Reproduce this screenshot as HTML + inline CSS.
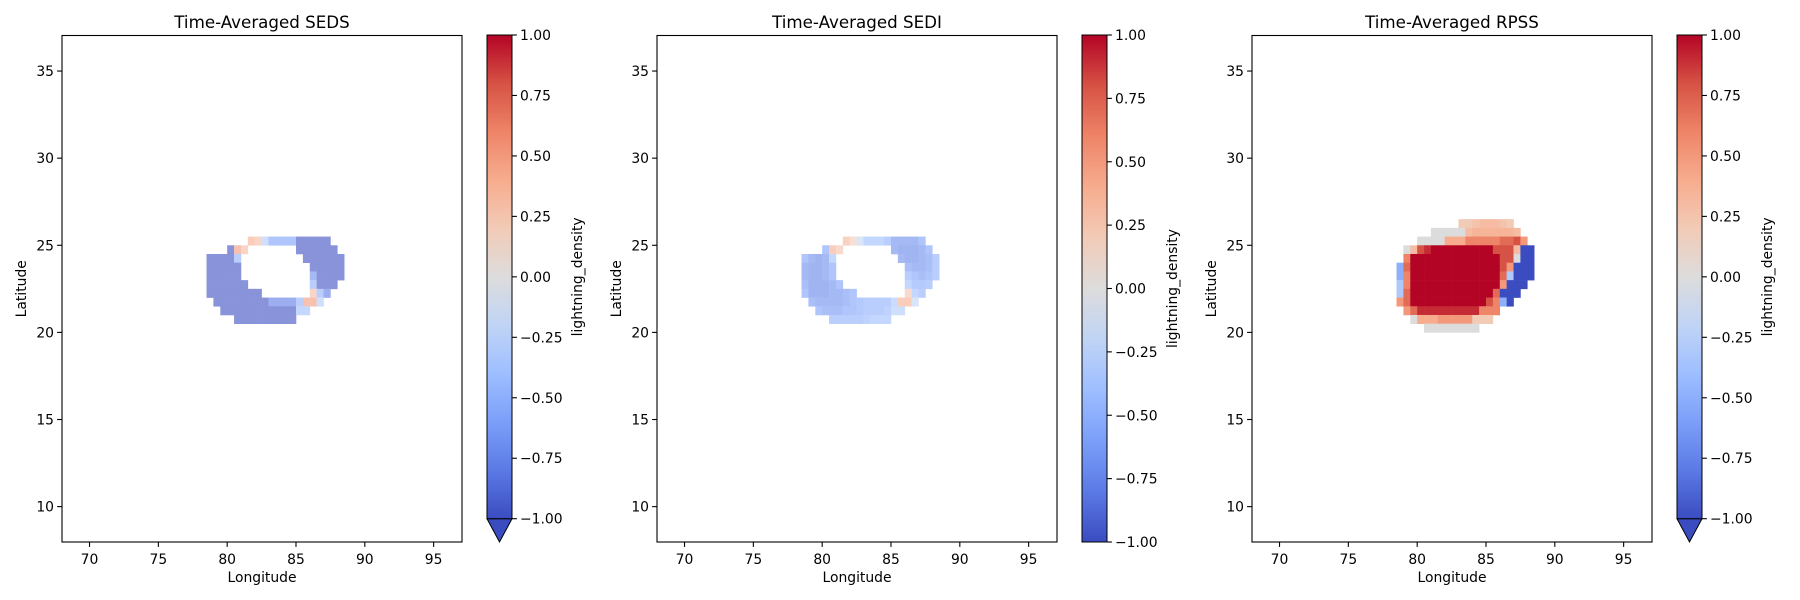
<!DOCTYPE html>
<html><head><meta charset="utf-8">
<style>
html,body{margin:0;padding:0;background:#fff;}
svg{display:block;font-family:"DejaVu Sans","Liberation Sans",sans-serif;}
</style></head>
<body>
<svg id="fig" width="1800" height="600" viewBox="0 0 1800 600" xmlns="http://www.w3.org/2000/svg">
<defs>
<linearGradient id="cw" x1="0" y1="1" x2="0" y2="0">
<stop offset="0" stop-color="#3b4cc0"/><stop offset="0.1" stop-color="#5b7ae5"/><stop offset="0.2" stop-color="#7b9ff9"/><stop offset="0.3" stop-color="#9ebeff"/><stop offset="0.4" stop-color="#c0d4f5"/><stop offset="0.5" stop-color="#dddcdc"/><stop offset="0.6" stop-color="#f2cbb7"/><stop offset="0.7" stop-color="#f7ac8e"/><stop offset="0.8" stop-color="#ee8468"/><stop offset="0.9" stop-color="#d65244"/><stop offset="1" stop-color="#b40426"/>
</linearGradient>
</defs>
</svg>
<script>
// ---- data ----
const xTicks = [70, 75, 80, 85, 90, 95];
const yTicks = [10, 15, 20, 25, 30, 35];
const cbTicks = [-1, -0.75, -0.5, -0.25, 0, 0.25, 0.5, 0.75, 1];
const cbTickLabels = ["\u22121.00", "\u22120.75", "\u22120.50", "\u22120.25", "0.00", "0.25", "0.50", "0.75", "1.00"];
const titles = ["Time-Averaged SEDS", "Time-Averaged SEDI", "Time-Averaged RPSS"];
const lonCenters = [78.75,79.25,79.75,80.25,80.75,81.25,81.75,82.25,82.75,83.25,83.75,84.25,84.75,85.25,85.75,86.25,86.75,87.25,87.75,88.25,88.75];
const latCenters = [26.25,25.75,25.25,24.75,24.25,23.75,23.25,22.75,22.25,21.75,21.25,20.75,20.25];
const N = null;
const sedsValues = [
[N,N,N,N,N,N,N,N,N,N,N,N,N,N,N,N,N,N,N,N,N],
[N,N,N,N,N,N,N,N,N,N,N,N,N,N,N,N,N,N,N,N,N],
[N,N,N,N,N,N,0.4,0.3,-0.3,-0.6,-0.6,-0.6,-0.6,-1,-1,-1,-1,-1,N,N,N],
[N,N,N,-1,0.5,0.3,N,N,N,N,N,N,N,-1,-1,-1,-1,-1,-1,N,N],
[-1,-1,-1,-1,-0.5,N,N,N,N,N,N,N,N,N,-1,-1,-1,-1,-1,-1,N],
[-1,-1,-1,-1,-1,N,N,N,N,N,N,N,N,N,N,-1,-1,-1,-1,-1,N],
[-1,-1,-1,-1,-1,N,N,N,N,N,N,N,N,N,N,-0.7,-1,-1,-1,-1,N],
[-1,-1,-1,-1,-1,-1,N,N,N,N,N,N,N,N,N,-0.5,-1,-1,-1,N,N],
[-1,-1,-1,-1,-1,-1,-1,-1,N,N,N,N,N,N,N,0.3,-0.5,-0.8,N,N,N],
[N,-1,-1,-1,-1,-1,-1,-1,-1,-0.8,-0.8,-0.8,-0.8,-0.5,0.5,0.5,-0.3,N,N,N,N],
[N,N,-1,-1,-1,-1,-1,-1,-1,-1,-1,-1,-1,-0.4,-0.4,N,N,N,N,N,N],
[N,N,N,N,-1,-1,-1,-1,-1,-1,-1,-1,-1,N,N,N,N,N,N,N,N],
[N,N,N,N,N,N,N,N,N,N,N,N,N,N,N,N,N,N,N,N,N]
];
const sediValues = [
[N,N,N,N,N,N,N,N,N,N,N,N,N,N,N,N,N,N,N,N,N],
[N,N,N,N,N,N,N,N,N,N,N,N,N,N,N,N,N,N,N,N,N],
[N,N,N,N,N,N,0.35,0.2,-0.2,-0.4,-0.4,-0.4,-0.5,-0.7,-0.7,-0.7,-0.7,-0.6,N,N,N],
[N,N,N,-0.6,0.4,0.25,N,N,N,N,N,N,N,-0.7,-0.75,-0.75,-0.75,-0.7,-0.6,N,N],
[-0.6,-0.7,-0.75,-0.7,-0.4,N,N,N,N,N,N,N,N,N,-0.7,-0.75,-0.75,-0.7,-0.65,-0.5,N],
[-0.7,-0.75,-0.75,-0.7,-0.6,N,N,N,N,N,N,N,N,N,N,-0.65,-0.7,-0.7,-0.65,-0.5,N],
[-0.7,-0.75,-0.75,-0.7,-0.6,N,N,N,N,N,N,N,N,N,N,-0.5,-0.6,-0.65,-0.6,-0.5,N],
[-0.65,-0.75,-0.75,-0.75,-0.7,-0.6,N,N,N,N,N,N,N,N,N,-0.4,-0.55,-0.55,-0.5,N,N],
[-0.6,-0.75,-0.75,-0.75,-0.7,-0.7,-0.65,-0.6,N,N,N,N,N,N,N,0.25,-0.4,-0.5,N,N,N],
[N,-0.65,-0.7,-0.7,-0.7,-0.7,-0.65,-0.6,-0.55,-0.5,-0.5,-0.5,-0.5,-0.35,0.4,0.4,-0.2,N,N,N,N],
[N,N,-0.6,-0.65,-0.65,-0.65,-0.6,-0.6,-0.55,-0.5,-0.5,-0.5,-0.45,-0.3,-0.3,N,N,N,N,N,N],
[N,N,N,N,-0.5,-0.5,-0.5,-0.5,-0.5,-0.45,-0.4,-0.4,-0.4,N,N,N,N,N,N,N,N],
[N,N,N,N,N,N,N,N,N,N,N,N,N,N,N,N,N,N,N,N,N]
];
const rpssValues = [
[N,N,N,N,N,N,N,N,N,0.2,0.2,0.25,0.3,0.3,0.3,0.25,0.2,N,N,N,N],
[N,N,N,N,N,0,0,0,0,0,0.3,0.35,0.35,0.35,0.35,0.35,0.35,0.3,N,N,N],
[N,N,N,0,0,0,0,0.4,0.4,0.4,0.6,0.6,0.6,0.6,0.6,0.7,0.7,0.8,0.5,N,N],
[N,0,0.3,0.8,0.9,1,1,1,1,1,1,1,1,1,0.8,0.8,0.8,0.3,-1,-1,N],
[N,0.6,1,1,1,1,1,1,1,1,1,1,1,1,1,0.8,0.8,0,-1,-1,N],
[-0.5,0.7,1,1,1,1,1,1,1,1,1,1,1,1,1,0.8,0.5,-1,-1,-1,N],
[-0.5,0.6,1,1,1,1,1,1,1,1,1,1,1,1,1,0.7,-0.3,-1,-1,-1,N],
[-0.3,0.6,1,1,1,1,1,1,1,1,1,1,1,1,1,0.5,-1,-1,-1,N,N],
[-0.3,0.7,1,1,1,1,1,1,1,1,1,1,1,1,0.7,-1,-1,-1,N,N,N],
[0.5,0.7,1,1,1,1,1,1,1,1,1,1,1,0.8,0.6,-0.5,-1,N,N,N,N],
[N,0.5,0.7,0.9,0.9,0.9,0.9,0.9,0.9,0.9,0.9,0.9,0.6,0.6,0.6,N,N,N,N,N,N],
[N,N,0,0.4,0.4,0.4,0.5,0.5,0.5,0.5,0.5,0.2,0.2,0.2,N,N,N,N,N,N,N],
[N,N,N,N,0,0,0,0,0,0,0,0,N,N,N,N,N,N,N,N,N]
];
const panelValues = [sedsValues, sediValues, rpssValues];
const panelExtend = [true, false, true];

// ---- layout ----
const SVGNS = "http://www.w3.org/2000/svg";
const svg = document.getElementById('fig');
const panelLeft = [62, 657, 1252];
const AX_W = 400, AX_TOP = 35.5, AX_BOT = 542;
const XMIN = 68, XMAX = 97.06, YMIN = 7.97, YMAX = 37.04;
const stops = [[59,76,192],[91,122,229],[123,159,249],[158,190,255],[192,212,245],[221,220,220],[242,203,183],[247,172,142],[238,132,104],[214,82,68],[180,4,38]];
function cmap(v){
  let t = (Math.max(-1, Math.min(1, v)) + 1) / 2 * 10;
  let i = Math.min(9, Math.floor(t)), f = t - i;
  const a = stops[i], b = stops[i+1];
  return 'rgb(' + a.map((c,k)=>Math.round(c + (b[k]-c)*f)).join(',') + ')';
}
function mk(tag, attrs, parent){
  const e = document.createElementNS(SVGNS, tag);
  for (const k in attrs) e.setAttribute(k, attrs[k]);
  (parent || svg).appendChild(e);
  return e;
}
function txt(s, attrs, parent){ const t = mk('text', attrs, parent); t.textContent = s; return t; }

panelValues.forEach((vals, p) => {
  const L = panelLeft[p];
  const xs = lon => L + (lon - XMIN) / (XMAX - XMIN) * AX_W;
  const ys = lat => AX_TOP + (YMAX - lat) / (YMAX - YMIN) * (AX_BOT - AX_TOP);
  const g = mk('g', {});
  
  
  // cells
  const cells = mk('g', {opacity: p < 2 ? 0.6 : 1}, g);
  
  
  vals.forEach((row, r) => row.forEach((v, c) => {
    if (v === null) return;
    const x0 = xs(lonCenters[c] - 0.25), x1 = xs(lonCenters[c] + 0.25);
    const y0 = ys(latCenters[r] + 0.25), y1 = ys(latCenters[r] - 0.25);
    const rc = mk('rect', {x: x0, y: y0, width: x1 - x0 + 0.3, height: y1 - y0 + 0.3, fill: cmap(v)}, cells);
    
    
  }));
  // frame
  const fr = mk('rect', {x: L, y: AX_TOP, width: AX_W, height: AX_BOT - AX_TOP, fill: 'none', stroke: '#000', 'stroke-width': 1.1}, g);
  
  
  xTicks.forEach(t => {
    const x = xs(t);
    mk('line', {x1: x, x2: x, y1: AX_BOT, y2: AX_BOT + 4.9, stroke: '#000', 'stroke-width': 1.1}, g);
    const tl = txt(String(t), {x: x, y: AX_BOT + 22, 'text-anchor': 'middle', 'font-size': 13.9, fill: '#000'}, g);
    
    
  });
  yTicks.forEach(t => {
    const y = ys(t);
    mk('line', {x1: L - 4.9, x2: L, y1: y, y2: y, stroke: '#000', 'stroke-width': 1.1}, g);
    const tl = txt(String(t), {x: L - 8, y: y + 5, 'text-anchor': 'end', 'font-size': 13.9, fill: '#000'}, g);
    
    
  });
  const xt = txt('Longitude', {x: L + AX_W/2, y: 582, 'text-anchor': 'middle', 'font-size': 13.9}, g);
  
  
  const yt = txt('Latitude', {x: 0, y: 0, 'text-anchor': 'middle', 'font-size': 13.9, transform: 'translate(' + (L - 36) + ',' + ((AX_TOP + AX_BOT)/2) + ') rotate(-90)'}, g);
  
  
  const tt = txt(titles[p], {x: L + AX_W/2, y: 28, 'text-anchor': 'middle', 'font-size': 16.7}, g);
  
  
  // colorbar
  const CL = L + 425, CW = 25, CT = 35, CB = panelExtend[p] ? 518.7 : 542;
  const cb = mk('g', {}, g);
  
  
  if (panelExtend[p]) {
    const tri = mk('polygon', {points: CL + ',' + CB + ' ' + (CL+CW) + ',' + CB + ' ' + (CL+CW/2) + ',542', fill: '#3b4cc0', stroke: '#000', 'stroke-width': 1}, cb);
    
    
  }
  mk('rect', {x: CL, y: CT, width: CW, height: CB - CT, fill: 'url(#cw)', stroke: '#000', 'stroke-width': 1}, cb);
  const cy = v => CB - (v + 1) / 2 * (CB - CT);
  cbTicks.forEach((t, i) => {
    const y = cy(t);
    mk('line', {x1: CL + CW, x2: CL + CW + 4.9, y1: y, y2: y, stroke: '#000', 'stroke-width': 1.1}, cb);
    const tl = txt(cbTickLabels[i], {x: CL + CW + 8, y: y + 5, 'font-size': 13.9}, cb);
    
    
  });
  const cl = txt('lightning_density', {x: 0, y: 0, 'text-anchor': 'middle', 'font-size': 13.9, transform: 'translate(' + (CL + CW + 70) + ',' + ((CT + CB)/2) + ') rotate(-90)'}, cb);
  
  
});
</script>
</body></html>
